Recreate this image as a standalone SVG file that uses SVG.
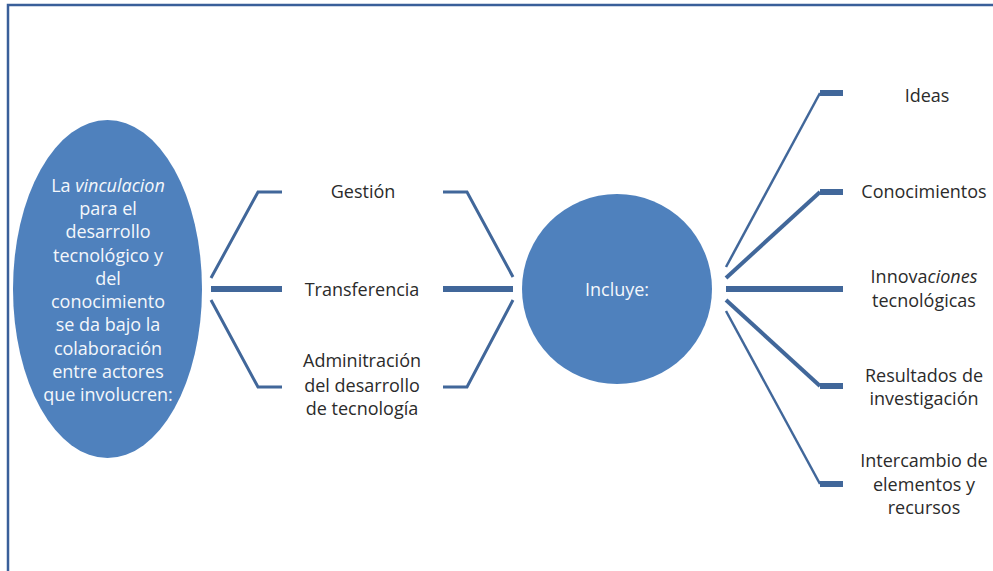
<svg xmlns="http://www.w3.org/2000/svg" width="993" height="571" viewBox="0 0 993 571">
<style>
.lbl{font-family:"Open Sans","Liberation Sans",sans-serif;font-size:18px;fill:#2b2b2b;text-anchor:middle}
.wt{font-family:"Open Sans","Liberation Sans",sans-serif;font-size:18px;fill:#f4f7fb;text-anchor:middle}
.shape{fill:#4f81bd}
.c{fill:none;stroke:#41679a;stroke-linejoin:miter}
</style>
<rect width="993" height="571" fill="#ffffff"/>
<path d="M8,571 V5 H993" fill="none" stroke="#3a5f9a" stroke-width="2.5"/>
<g id="connectors">
  <path class="c" stroke-width="3" d="M282,192 H258 L211,278"/>
  <path class="c" stroke-width="6" d="M211,289 H282"/>
  <path class="c" stroke-width="3" d="M282,387 H258 L211,300"/>
  <path class="c" stroke-width="3" d="M443,192 H467 L513,277"/>
  <path class="c" stroke-width="6" d="M443,289 H513"/>
  <path class="c" stroke-width="3" d="M443,387 H467 L513,300"/>
  <path class="c" stroke-width="2.5" d="M726,267 L820,93"/>
  <path class="c" stroke-width="6" d="M820,93 H843"/>
  <path class="c" stroke-width="4" d="M726,278 L820,192"/>
  <path class="c" stroke-width="6" d="M820,192 H843"/>
  <path class="c" stroke-width="6" d="M726,289 H843"/>
  <path class="c" stroke-width="4" d="M726,300 L820,386"/>
  <path class="c" stroke-width="6" d="M820,386 H843"/>
  <path class="c" stroke-width="2.5" d="M726,311 L820,484"/>
  <path class="c" stroke-width="6" d="M820,484 H843"/>
</g>
<g id="n-vinculacion">
  <ellipse class="shape" cx="107.5" cy="289" rx="94.5" ry="169"/>
  <text class="wt" x="108" y="192">La <tspan font-style="italic">vinculacion</tspan></text>
  <text class="wt" x="108" y="215">para el</text>
  <text class="wt" x="108" y="238">desarrollo</text>
  <text class="wt" x="108" y="262">tecnológico y</text>
  <text class="wt" x="108" y="285">del</text>
  <text class="wt" x="108" y="308">conocimiento</text>
  <text class="wt" x="108" y="331">se da bajo la</text>
  <text class="wt" x="108" y="355">colaboración</text>
  <text class="wt" x="108" y="378">entre actores</text>
  <text class="wt" x="108" y="401">que involucren:</text>
</g>
<g id="n-gestion"><text class="lbl" x="363" y="198">Gestión</text></g>
<g id="n-transferencia"><text class="lbl" x="362" y="296">Transferencia</text></g>
<g id="n-administracion">
  <text class="lbl" x="362" y="367">Adminitración</text>
  <text class="lbl" x="362" y="392">del desarrollo</text>
  <text class="lbl" x="362" y="415">de tecnología</text>
</g>
<g id="n-incluye">
  <circle class="shape" cx="617" cy="289" r="95"/>
  <text class="wt" x="617" y="296" fill="#e6eef8">Incluye:</text>
</g>
<g id="n-ideas"><text class="lbl" x="927" y="102">Ideas</text></g>
<g id="n-conocimientos"><text class="lbl" x="924" y="198">Conocimientos</text></g>
<g id="n-innovaciones">
  <text class="lbl" x="924" y="283">Innova<tspan font-style="italic">ciones</tspan></text>
  <text class="lbl" x="924" y="307">tecnológicas</text>
</g>
<g id="n-resultados">
  <text class="lbl" x="924" y="382">Resultados de</text>
  <text class="lbl" x="924" y="405">investigación</text>
</g>
<g id="n-intercambio">
  <text class="lbl" x="924" y="467">Intercambio de</text>
  <text class="lbl" x="924" y="491">elementos y</text>
  <text class="lbl" x="924" y="514">recursos</text>
</g>
</svg>
